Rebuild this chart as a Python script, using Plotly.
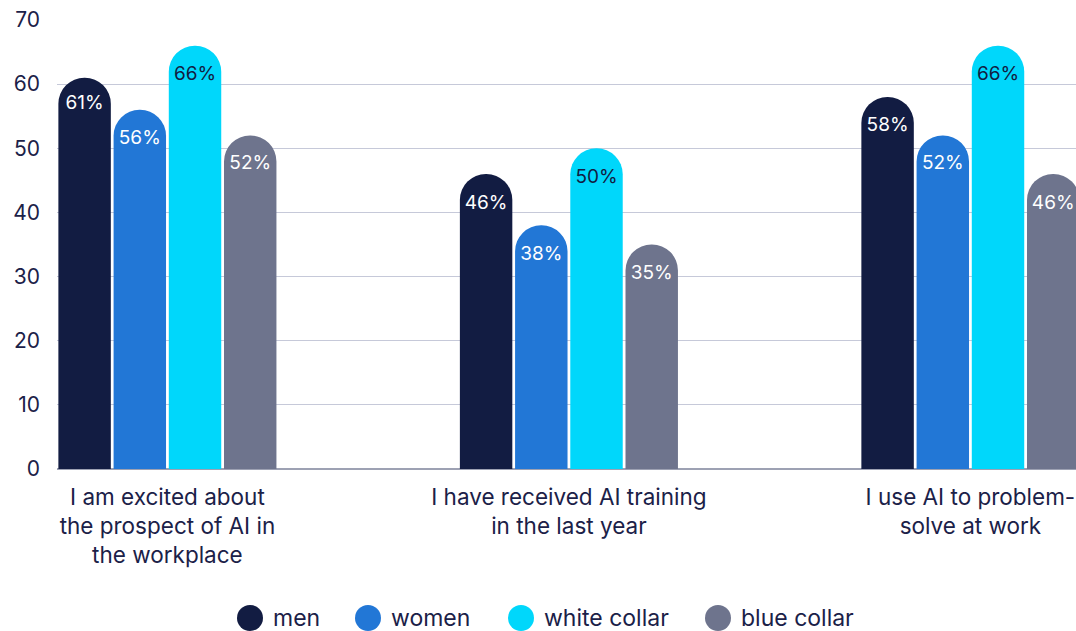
import plotly.graph_objects as go

# Survey statements (x categories) and series
categories = [
    "I am excited about<br>the prospect of AI in<br>the workplace",
    "I have received AI training<br>in the last year",
    "I use AI to problem-<br>solve at work",
]
series_names = ["men", "women", "white collar", "blue collar"]
men = [61, 46, 58]
women = [56, 38, 52]
white_collar = [66, 50, 66]
blue_collar = [52, 35, 46]
y_ticks = [0, 10, 20, 30, 40, 50, 60, 70]

series_values = [men, women, white_collar, blue_collar]
colors = ["#121c42", "#2277d6", "#00d7fb", "#6e748d"]
label_colors = ["#ffffff", "#ffffff", "#121c42", "#ffffff"]
text_color = "#1b2148"
FONT = "Inter, Noto Sans, sans-serif"

fig = go.Figure()
for name, vals, col, lcol in zip(series_names, series_values, colors, label_colors):
    fig.add_trace(go.Bar(
        x=list(range(len(categories))),
        y=vals,
        name=name,
        marker=dict(color=col, line=dict(width=0)),
        text=[f"{v}%" for v in vals],
        textposition="inside",
        insidetextanchor="end",
        textangle=0,
        textfont=dict(family=FONT, size=19, color=lcol),
        showlegend=False,
        cliponaxis=True,
    ))

# Legend drawn as circles with labels beneath the plot
legend_x = [250, 368, 521, 718]
W, H = 1076, 631
for name, col, lx in zip(series_names, colors, legend_x):
    fig.add_shape(type="circle", xref="paper", yref="paper",
                  x0=(lx - 13 - 57) / (W - 57), x1=(lx + 13 - 57) / (W - 57),
                  y0=-(618 + 13 - 469) / (469 - 20), y1=-(618 - 13 - 469) / (469 - 20),
                  fillcolor=col, line=dict(width=0))
    fig.add_annotation(xref="paper", yref="paper",
                       x=(lx + 21 - 57) / (W - 57), y=-(618 - 469) / (469 - 20),
                       xanchor="left", yanchor="middle", showarrow=False,
                       text=name, font=dict(family=FONT, size=23, color=text_color))

fig.update_layout(
    width=W, height=H,
    margin=dict(l=57, r=0, t=20, b=162),
    paper_bgcolor="white", plot_bgcolor="white",
    barmode="group", bargap=0.45, bargroupgap=0.05,
    barcornerradius="50%",
    font=dict(family=FONT, color=text_color),
    xaxis=dict(
        tickmode="array", tickvals=list(range(len(categories))), ticktext=categories,
        range=[-0.275, 2.263], showgrid=False, zeroline=False, showline=False,
        tickfont=dict(family=FONT, size=22.5, color=text_color), ticks="",
        ticklabelstandoff=12,
    ),
    yaxis=dict(
        range=[0, 70], tickvals=y_ticks, showgrid=True, gridcolor="#c6c9d9", gridwidth=1.3,
        zeroline=True, zerolinecolor="#9da1b3", zerolinewidth=2,
        tickfont=dict(family=FONT, size=21, color=text_color), ticks="",
        ticklabelstandoff=16,
    ),
    uniformtext=dict(mode=False),
)

fig.write_html("out.html")
